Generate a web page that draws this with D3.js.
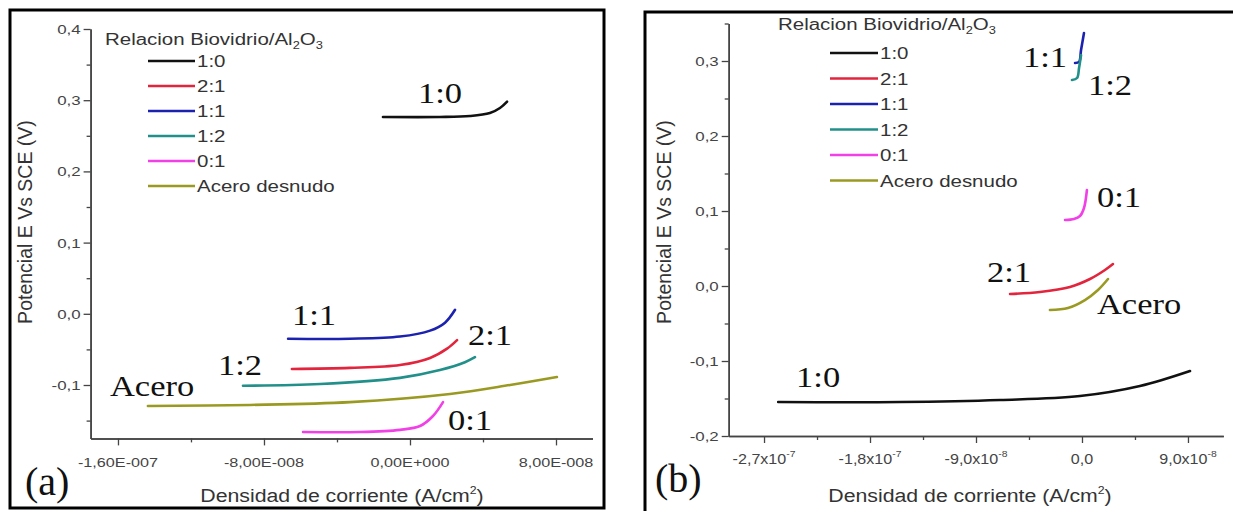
<!DOCTYPE html>
<html>
<head>
<meta charset="utf-8">
<script src="https://cdn.jsdelivr.net/npm/d3@7"></script>
<style>
  body { margin: 0; background: #fff; }
  svg { display: block; }
</style>
</head>
<body>
<svg id="chart" width="1233" height="511"></svg>
<script>
// --- DATA ---
const seriesNames = ["1:0", "2:1", "1:1", "1:2", "0:1", "Acero desnudo"];
const seriesColors = ["#111111", "#e2243c", "#1c22b0", "#22908a", "#f040e6", "#9a9a22"];

// panel (a): current density (A/cm2) vs potential (V)
const a10 = [[-1.48e-8, 0.2764], [1.64e-8, 0.2764], [3.29e-8, 0.2778], [4.38e-8, 0.282], [4.93e-8, 0.289], [5.32e-8, 0.298]];
const a21 = [[-6.47e-8, -0.0775], [-3.29e-8, -0.076], [-0.55e-8, -0.072], [1.1e-8, -0.062], [2.03e-8, -0.049], [2.58e-8, -0.037]];
const a11 = [[-6.68e-8, -0.035], [-3.29e-8, -0.035], [-0.55e-8, -0.032], [1.1e-8, -0.0236], [1.92e-8, -0.0124], [2.47e-8, 0.0056]];
const a12 = [[-9.15e-8, -0.101], [-4.93e-8, -0.0986], [-0.55e-8, -0.090], [1.64e-8, -0.079], [3.01e-8, -0.068], [3.56e-8, -0.061]];
const a01 = [[-5.86e-8, -0.166], [-2.74e-8, -0.166], [-0.55e-8, -0.163], [0.55e-8, -0.1576], [1.26e-8, -0.1435], [1.81e-8, -0.124]];
const aAcero = [[-1.436e-7, -0.1295], [-8.77e-8, -0.128], [-3.29e-8, -0.124], [2.19e-8, -0.1126], [5.48e-8, -0.100], [8.05e-8, -0.0888]];

// panel (b)
const b10 = [[-2.58e-7, -0.1547], [-1.545e-7, -0.1547], [-6.96e-8, -0.152], [-0.17e-8, -0.1467], [4.92e-8, -0.1333], [9.17e-8, -0.1133]];
const b21 = [[-6.11e-8, -0.0107], [-3.57e-8, -0.008], [-1.02e-8, -0.0013], [0.68e-8, 0.0093], [1.95e-8, 0.0213], [2.63e-8, 0.0293]];
const b11 = [[-0.59e-8, 0.2973], [-0.25e-8, 0.2987], [-0.08e-8, 0.3147], [0.17e-8, 0.3373]];
const b12 = [[-0.85e-8, 0.2747], [-0.42e-8, 0.2773], [-0.25e-8, 0.2907], [-0.08e-8, 0.308]];
const b01 = [[-1.44e-8, 0.088], [-0.68e-8, 0.0893], [-0.17e-8, 0.0933], [0.17e-8, 0.104], [0.42e-8, 0.128]];
const bAcero = [[-2.72e-8, -0.032], [-1.19e-8, -0.0293], [0.25e-8, -0.0187], [1.36e-8, -0.0053], [2.21e-8, 0.0093]];

// ticks
const aXTicks = [-1.6e-7, -8e-8, 0, 8e-8];
const aXTickLabels = ["-1,60E-007", "-8,00E-008", "0,00E+000", "8,00E-008"];
const aXMinor = [-1.2e-7, -4e-8, 4e-8];
const aYTicks = [-0.1, 0, 0.1, 0.2, 0.3, 0.4];
const aYTickLabels = ["-0,1", "0,0", "0,1", "0,2", "0,3", "0,4"];
const aYMinor = [-0.15, -0.05, 0.05, 0.15, 0.25, 0.35];

const bXTicks = [-2.7e-7, -1.8e-7, -9e-8, 0, 9e-8];
const bXTickLabels = [["-2,7x10", "-7"], ["-1,8x10", "-7"], ["-9,0x10", "-8"], ["0,0", ""], ["9,0x10", "-8"]];
const bXMinor = [-2.25e-7, -1.35e-7, -4.5e-8, 4.5e-8];
const bYTicks = [-0.2, -0.1, 0, 0.1, 0.2, 0.3];
const bYTickLabels = ["-0,2", "-0,1", "0,0", "0,1", "0,2", "0,3"];
const bYMinor = [-0.15, -0.05, 0.05, 0.15, 0.25, 0.35];

// curve annotations [text, x, y] in data units (text baseline start)
const aNotes = [["1:0", 0.44e-8, 0.296], ["1:1", -6.47e-8, -0.0157], ["2:1", 3.18e-8, -0.0438],
                ["1:2", -1.052e-7, -0.086], ["Acero", -1.644e-7, -0.1155], ["0:1", 2.08e-8, -0.163]];
const bNotes = [["1:1", -5.01e-8, 0.292], ["1:2", 0.51e-8, 0.2547], ["0:1", 1.27e-8, 0.1053],
                ["2:1", -8.07e-8, 0.0053], ["Acero", 1.27e-8, -0.0373], ["1:0", -2.428e-7, -0.1347]];

// --- SETUP ---
const svg = d3.select("#chart");
const SANS = "'Liberation Sans', Arial, sans-serif";
const SERIF = "'Liberation Serif', 'Times New Roman', serif";

function stext(parent, x, y, str, size, sx, anchor, family, fill) {
    return parent.append("text")
        .attr("transform", `translate(${x},${y}) scale(${sx},1)`)
        .attr("text-anchor", anchor || "start")
        .attr("font-family", family || SANS)
        .attr("font-size", size)
        .attr("fill", fill || "#333")
        .text(str);
}

function drawPanel(p) {
    const g = svg.append("g");
    g.append("rect")
        .attr("x", p.frame[0]).attr("y", p.frame[1])
        .attr("width", p.frame[2] - p.frame[0]).attr("height", p.frame[3] - p.frame[1])
        .attr("fill", "none").attr("stroke", "#000").attr("stroke-width", 3);

    const x = d3.scaleLinear().domain(p.xDomain).range(p.xRange);
    const y = d3.scaleLinear().domain(p.yDomain).range(p.yRange);
    const x0 = p.xRange[0], yB = p.yRange[0];

    // axes
    const xAx = g.append("g").attr("transform", `translate(0,${yB})`)
        .call(d3.axisBottom(x).tickValues(p.xTicks).tickSize(7).tickSizeOuter(0).tickFormat(""));
    const xMin = g.append("g").attr("transform", `translate(0,${yB})`)
        .call(d3.axisBottom(x).tickValues(p.xMinor).tickSize(4).tickSizeOuter(0).tickFormat(""));
    const yAx = g.append("g").attr("transform", `translate(${x0},0)`)
        .call(d3.axisLeft(y).tickValues(p.yTicks).tickSize(7).tickSizeOuter(0).tickFormat(""));
    const yMin = g.append("g").attr("transform", `translate(${x0},0)`)
        .call(d3.axisLeft(y).tickValues(p.yMinor).tickSize(4).tickSizeOuter(0).tickFormat(""));
    [xAx, xMin, yAx, yMin].forEach(a => {
        a.selectAll("path.domain").attr("stroke", "#444").attr("stroke-width", 1.5);
        a.selectAll(".tick line").attr("stroke", "#444").attr("stroke-width", 1.3);
    });

    // tick labels
    p.yTicks.forEach((v, i) => stext(g, x0 - 10, y(v) + 5, p.yTickLabels[i], 13.5, 1.25, "end", SANS, "#444"));
    p.xTicks.forEach((v, i) => {
        const lab = p.xTickLabels[i];
        if (Array.isArray(lab)) {
            const t = stext(g, x(v), yB + 28, "", 14, 1.15, "middle", SANS, "#444");
            t.append("tspan").text(lab[0]);
            if (lab[1]) t.append("tspan").attr("dy", -7).attr("font-size", 9).text(lab[1]);
        } else {
            stext(g, x(v), yB + 29, lab, 13.5, 1.2, "middle", SANS, "#444");
        }
    });

    // axis titles
    const xt = stext(g, p.xTitle[0], p.xTitle[1], "", 19, 1.12, "middle", SANS, "#333");
    xt.append("tspan").text("Densidad de corriente (A/cm");
    xt.append("tspan").attr("dy", -8).attr("font-size", 11).text("2");
    xt.append("tspan").attr("dy", 8).text(")");
    g.append("text")
        .attr("transform", `translate(${p.yTitle[0]},${p.yTitle[1]}) rotate(-90)`)
        .attr("text-anchor", "middle").attr("font-family", SANS).attr("font-size", 19.5)
        .attr("fill", "#333").text("Potencial E Vs SCE (V)");

    // curves
    const line = d3.line().x(d => x(d[0])).y(d => y(d[1])).curve(d3.curveCatmullRom.alpha(0.5));
    p.series.forEach((s, i) => {
        g.append("path").datum(s).attr("d", line)
            .attr("fill", "none").attr("stroke", seriesColors[i])
            .attr("stroke-width", 2.6).attr("stroke-linecap", "round");
    });

    // annotations
    p.notes.forEach(n => stext(g, x(n[1]), y(n[2]), n[0], 30, 1.15, "start", SERIF, "#111"));
    stext(g, p.tag[0], p.tag[1], p.tag[2], 40, 1.0, "start", SERIF, "#111");

    // legend
    const L = p.legend;
    const tt = stext(g, L.x, L.y, "", 16, 1.28, "start", SANS, "#333");
    tt.append("tspan").text("Relacion Biovidrio/Al");
    tt.append("tspan").attr("dy", 4).attr("font-size", 10).text("2");
    tt.append("tspan").attr("dy", -4).text("O");
    tt.append("tspan").attr("dy", 4).attr("font-size", 10).text("3");
    seriesNames.forEach((name, i) => {
        const ry = L.row0 + i * L.step;
        g.append("line").attr("x1", L.lx0).attr("x2", L.lx1).attr("y1", ry).attr("y2", ry)
            .attr("stroke", seriesColors[i]).attr("stroke-width", 2.6);
        stext(g, L.lx1 + 2, ry + 6, name, 16, 1.28, "start", SANS, "#333");
    });
}

drawPanel({
    frame: [10, 10, 604, 508],
    xDomain: [-1.75e-7, 1.0e-7], xRange: [90.6, 592.5],
    yDomain: [-0.175, 0.4], yRange: [438.4, 29],
    xTicks: aXTicks, xTickLabels: aXTickLabels, xMinor: aXMinor,
    yTicks: aYTicks, yTickLabels: aYTickLabels, yMinor: aYMinor,
    xTitle: [342, 502], yTitle: [32, 222],
    series: [a10, a21, a11, a12, a01, aAcero],
    notes: aNotes, tag: [25, 495, "(a)"],
    legend: { x: 105, y: 45, row0: 61, step: 25, lx0: 148, lx1: 195 }
});

drawPanel({
    frame: [645, 12, 1242, 514],
    xDomain: [-3.0e-7, 1.2e-7], xRange: [728.7, 1223.3],
    yDomain: [-0.2, 0.35], yRange: [436, 23.5],
    xTicks: bXTicks, xTickLabels: bXTickLabels, xMinor: bXMinor,
    yTicks: bYTicks, yTickLabels: bYTickLabels, yMinor: bYMinor,
    xTitle: [970, 502], yTitle: [671, 222],
    series: [b10, b21, b11, b12, b01, bAcero],
    notes: bNotes, tag: [655, 492, "(b)"],
    legend: { x: 778, y: 30, row0: 53, step: 25.5, lx0: 830, lx1: 878 }
});
</script>
</body>
</html>
